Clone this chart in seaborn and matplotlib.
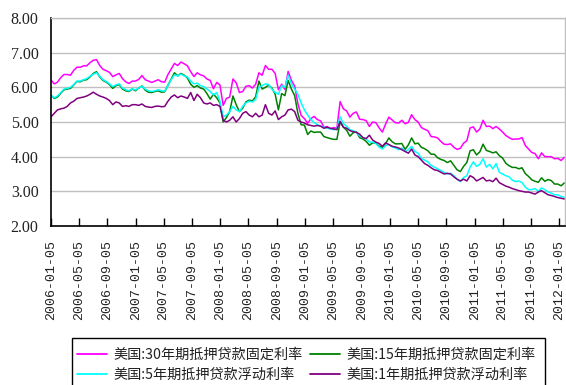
import numpy as np
import pandas as pd
import matplotlib
matplotlib.use('Agg')
import matplotlib.pyplot as plt
from matplotlib.lines import Line2D
from matplotlib.patches import Rectangle
from matplotlib.font_manager import FontProperties
import seaborn as sns

series_names = ['美国:30年期抵押贷款固定利率', '美国:15年期抵押贷款固定利率',
                '美国:5年期抵押贷款浮动利率', '美国:1年期抵押贷款浮动利率']
series_colors = ['#FF00FF', '#008000', '#00FFFF', '#800080']

start_date = '2006-01-05'   # biweekly observations

frm30 = [6.21, 6.10, 6.15, 6.28, 6.37, 6.37, 6.35, 6.49, 6.58, 6.58, 6.62, 6.62, 6.71, 6.78, 6.80, 6.63, 6.52, 6.48, 6.43, 6.31, 6.36, 6.40, 6.25, 6.16, 6.11, 6.18,
         6.18, 6.23, 6.34, 6.22, 6.18, 6.14, 6.18, 6.22, 6.16, 6.15, 6.37, 6.53, 6.69, 6.63, 6.73, 6.68, 6.62, 6.45, 6.31, 6.42, 6.36, 6.33, 6.24, 6.20, 5.96, 6.14,
         6.07, 5.48, 5.68, 5.72, 6.24, 6.13, 5.85, 5.88, 6.03, 6.05, 5.98, 6.09, 6.42, 6.35, 6.63, 6.52, 6.52, 6.40, 5.93, 6.09, 5.94, 6.46, 6.20, 6.04, 5.53, 5.19,
         5.10, 4.96, 5.10, 5.16, 5.07, 5.03, 4.85, 4.87, 4.80, 4.84, 4.82, 5.59, 5.38, 5.32, 5.14, 5.25, 5.29, 5.08, 5.07, 5.04, 4.87, 5.00, 4.98, 4.83, 4.71, 4.94,
         5.14, 5.06, 4.98, 4.97, 5.05, 4.95, 4.99, 5.21, 5.07, 5.00, 4.84, 4.79, 4.75, 4.58, 4.57, 4.54, 4.44, 4.36, 4.35, 4.37, 4.27, 4.21, 4.24, 4.39, 4.46, 4.83,
         4.86, 4.71, 4.80, 5.05, 4.87, 4.88, 4.81, 4.87, 4.80, 4.71, 4.61, 4.55, 4.50, 4.51, 4.51, 4.55, 4.32, 4.22, 4.12, 4.09, 3.94, 4.11, 4.00, 4.00, 4.00, 3.94,
         3.95, 3.89, 3.98]

frm15 = [5.77, 5.68, 5.72, 5.83, 5.93, 5.95, 5.97, 6.07, 6.17, 6.16, 6.21, 6.22, 6.30, 6.40, 6.45, 6.30, 6.20, 6.15, 6.08, 5.97, 6.05, 6.08, 5.95, 5.90, 5.88, 5.95,
         5.90, 5.98, 6.04, 5.92, 5.86, 5.85, 5.88, 5.90, 5.86, 5.87, 6.06, 6.24, 6.42, 6.33, 6.40, 6.35, 6.27, 6.09, 6.00, 6.05, 5.98, 5.95, 5.82, 5.66, 5.80, 5.70,
         5.55, 5.00, 5.13, 5.30, 5.75, 5.50, 5.30, 5.40, 5.58, 5.63, 5.61, 5.73, 6.18, 5.95, 6.00, 6.06, 5.98, 5.80, 5.35, 5.82, 5.76, 6.20, 5.95, 5.76, 5.25, 4.92,
         4.91, 4.64, 4.74, 4.70, 4.71, 4.71, 4.58, 4.55, 4.52, 4.50, 4.50, 5.00, 4.85, 4.76, 4.59, 4.69, 4.72, 4.55, 4.51, 4.44, 4.33, 4.40, 4.39, 4.30, 4.27, 4.38,
         4.54, 4.43, 4.37, 4.37, 4.38, 4.21, 4.34, 4.54, 4.37, 4.39, 4.27, 4.23, 4.17, 4.07, 4.07, 3.97, 3.92, 3.89, 3.83, 3.88, 3.75, 3.62, 3.57, 3.72, 3.83, 4.17,
         4.20, 4.05, 4.14, 4.36, 4.18, 4.15, 4.11, 4.14, 4.03, 3.96, 3.81, 3.74, 3.69, 3.69, 3.65, 3.68, 3.51, 3.43, 3.33, 3.29, 3.26, 3.39, 3.29, 3.34, 3.31, 3.21,
         3.21, 3.16, 3.24]

arm5 = [5.76, 5.70, 5.75, 5.85, 5.95, 5.97, 6.00, 6.08, 6.18, 6.18, 6.22, 6.25, 6.32, 6.38, 6.42, 6.32, 6.22, 6.17, 6.10, 6.02, 6.07, 6.10, 5.98, 5.93, 5.90, 5.96,
        5.92, 5.98, 6.03, 5.95, 5.90, 5.88, 5.90, 5.93, 5.90, 5.89, 6.05, 6.22, 6.36, 6.33, 6.38, 6.33, 6.30, 6.18, 6.10, 6.12, 6.05, 6.02, 5.95, 5.88, 5.78, 5.85,
        5.60, 5.15, 5.20, 5.30, 5.45, 5.35, 5.30, 5.45, 5.55, 5.60, 5.58, 5.65, 6.00, 6.05, 6.10, 6.08, 5.95, 5.85, 5.80, 6.05, 6.00, 6.35, 6.10, 5.95, 5.80, 5.55,
        5.35, 5.20, 5.07, 4.98, 4.92, 4.88, 4.85, 4.82, 4.80, 4.78, 4.80, 5.15, 4.95, 4.88, 4.78, 4.75, 4.70, 4.60, 4.55, 4.52, 4.42, 4.42, 4.38, 4.28, 4.22, 4.32,
        4.35, 4.28, 4.25, 4.20, 4.25, 4.15, 4.20, 4.30, 4.15, 4.10, 3.95, 3.90, 3.85, 3.75, 3.70, 3.65, 3.60, 3.55, 3.50, 3.52, 3.45, 3.35, 3.28, 3.40, 3.45, 3.70,
        3.85, 3.72, 3.78, 3.94, 3.70, 3.78, 3.65, 3.80, 3.55, 3.50, 3.45, 3.42, 3.32, 3.28, 3.30, 3.25, 3.12, 3.05, 3.05, 3.08, 3.00, 3.10, 3.05, 2.98, 2.95, 2.90,
        2.90, 2.85, 2.83]

arm1 = [5.15, 5.25, 5.35, 5.38, 5.40, 5.45, 5.55, 5.60, 5.68, 5.70, 5.72, 5.75, 5.80, 5.86, 5.80, 5.75, 5.72, 5.68, 5.62, 5.50, 5.58, 5.55, 5.45, 5.47, 5.45, 5.50,
        5.50, 5.48, 5.52, 5.45, 5.43, 5.42, 5.45, 5.46, 5.44, 5.45, 5.60, 5.72, 5.78, 5.70, 5.75, 5.72, 5.68, 5.85, 5.62, 5.80, 5.70, 5.55, 5.52, 5.55, 5.48, 5.50,
        5.45, 5.05, 5.00, 5.05, 5.15, 5.00, 5.10, 5.25, 5.30, 5.20, 5.15, 5.25, 5.15, 5.20, 5.50, 5.25, 5.20, 5.32, 5.07, 5.15, 5.20, 5.35, 5.37, 5.30, 5.05, 5.00,
        4.97, 4.92, 4.90, 4.88, 4.90, 4.88, 4.82, 4.85, 4.82, 4.80, 4.78, 5.02, 4.85, 4.82, 4.75, 4.72, 4.70, 4.65, 4.55, 4.52, 4.62, 4.48, 4.42, 4.38, 4.30, 4.40,
        4.35, 4.30, 4.28, 4.25, 4.20, 4.15, 4.10, 4.22, 4.05, 4.00, 3.90, 3.80, 3.75, 3.68, 3.62, 3.60, 3.55, 3.50, 3.52, 3.50, 3.42, 3.35, 3.30, 3.35, 3.30, 3.45,
        3.40, 3.30, 3.35, 3.40, 3.30, 3.32, 3.28, 3.38, 3.25, 3.20, 3.15, 3.12, 3.08, 3.05, 3.02, 3.00, 2.98, 2.98, 2.95, 2.92, 2.98, 3.02, 2.96, 2.90, 2.88, 2.85,
        2.82, 2.80, 2.78]

tick_labels = ['2006-01-05', '2006-05-05', '2006-09-05', '2007-01-05', '2007-05-05', '2007-09-05',
               '2008-01-05', '2008-05-05', '2008-09-05', '2009-01-05', '2009-05-05', '2009-09-05',
               '2010-01-05', '2010-05-05', '2010-09-05', '2011-01-05', '2011-05-05', '2011-09-05',
               '2012-01-05']
y_ticks = [2, 3, 4, 5, 6, 7, 8]

all_values = [frm30, frm15, arm5, arm1]
frames = []
for name, vals in zip(series_names, all_values):
    d = pd.date_range(start_date, periods=len(vals), freq='14D')
    frames.append(pd.DataFrame({'date': d, 'value': vals, 'series': name}))
df = pd.concat(frames, ignore_index=True)

sns.set_theme(style='white')
plt.rcParams['font.family'] = ['Noto Sans CJK SC', 'DejaVu Sans']

W, H = 566, 385
fig = plt.figure(figsize=(W / 100, H / 100), dpi=100)
ax = fig.add_axes([51 / W, 1 - 226 / H, 514 / W, 208 / H])

sns.lineplot(data=df, x='date', y='value', hue='series', hue_order=series_names,
             palette=series_colors, linewidth=1.1, ax=ax, legend=False)

ax.set_xlim(pd.Timestamp('2006-01-05'), pd.Timestamp('2012-01-29'))
ax.set_ylim(2, 8)
ax.set_yticks(y_ticks)
ax.set_yticklabels([f'{v:.2f}' for v in y_ticks])
ax.set_xticks(pd.to_datetime(tick_labels))
ax.set_xticklabels(tick_labels, rotation=90, ha='center', va='top')
ax.set_xlabel('')
ax.set_ylabel('')

fp_y = FontProperties(family='Liberation Serif', size=11.5)
fp_x = FontProperties(family='Liberation Mono', size=9.5)
for t in ax.get_yticklabels():
    t.set_fontproperties(fp_y)
    t.set_color('#222222')
for t in ax.get_xticklabels():
    t.set_fontproperties(fp_x)
    t.set_color('#222222')

ax.yaxis.grid(True, color='#c0c0c0', linewidth=1.0)
ax.xaxis.grid(False)
ax.set_axisbelow(True)
for s in ['left', 'bottom']:
    ax.spines[s].set_color('black')
    ax.spines[s].set_linewidth(1.2)
for s in ['top', 'right']:
    ax.spines[s].set_color('#c0c0c0')
    ax.spines[s].set_linewidth(1.0)

ax.tick_params(axis='x', direction='in', length=6, width=1, color='black', pad=10, bottom=True)
ax.tick_params(axis='y', length=0, pad=9)

order = [0, 2, 1, 3]
handles = [Line2D([0], [0], color=series_colors[i], linewidth=1.3) for i in order]
labels = [series_names[i] for i in order]
leg = fig.legend(handles, labels, loc='upper left', bbox_to_anchor=(72 / W, 1 - 343 / H),
                 ncol=2, frameon=False, borderaxespad=0, handlelength=2.1,
                 handletextpad=0.5, columnspacing=0.5, labelspacing=0.42, borderpad=0.35,
                 prop={'family': 'Noto Sans CJK SC', 'size': 10.2})
for t in leg.get_texts():
    t.set_color('#222222')

frame = Rectangle((72 / W, 1 - 395 / H), (545 - 72) / W, (395 - 338) / H,
                  transform=fig.transFigure, fill=False, edgecolor='black',
                  linewidth=1.0, clip_on=False)
fig.add_artist(frame)

fig.savefig('out.png', dpi=100)
